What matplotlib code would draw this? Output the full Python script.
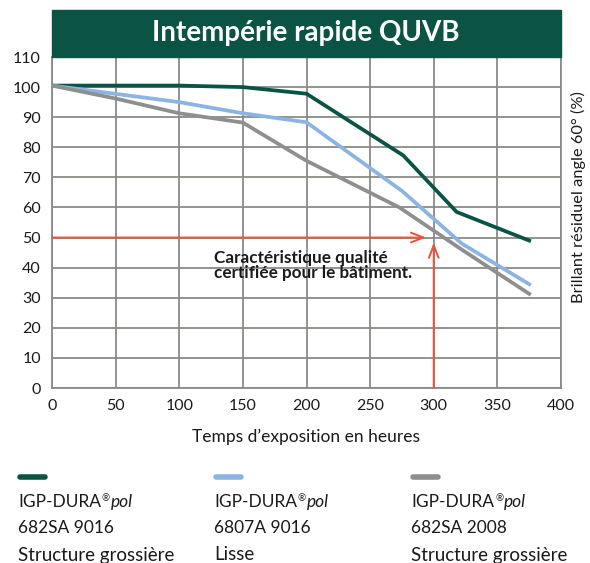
import matplotlib.pyplot as plt
from matplotlib.patches import Rectangle
from matplotlib.lines import Line2D

plt.rcParams['font.family'] = ['Lato', 'DejaVu Sans']

# data (hours vs residual gloss %)
hours_green = [0, 100, 150, 200, 276, 318, 375]
gloss_green = [100.5, 100.5, 100, 97.8, 77.3, 58.5, 49]

hours_blue = [0, 100, 150, 200, 275, 322, 375]
gloss_blue = [100.5, 95, 91.3, 88.3, 65.5, 48, 34.5]

hours_gray = [0, 50, 100, 150, 200, 273, 322, 375]
gloss_gray = [100.5, 96.2, 91.3, 88.2, 75.5, 60, 46, 31.3]

xticks = [0, 50, 100, 150, 200, 250, 300, 350, 400]
yticks = [0, 10, 20, 30, 40, 50, 60, 70, 80, 90, 100, 110]

names = ["682SA 9016", "6807A 9016", "682SA 2008"]
finish = ["Structure grossière", "Lisse", "Structure grossière"]

green = '#0b5445'
blue = '#8cb4e2'
gray = '#8f8f8f'
red = '#e8523f'
grid_c = '#8a8a86'
txt = '#1a1a1a'

fig = plt.figure(figsize=(5.90, 5.63), dpi=100)
ax = fig.add_axes([52/590, 1 - 388/563, 509/590, 331/563])

ax.plot(hours_green, gloss_green, color=green, lw=2.7, zorder=4)
ax.plot(hours_blue, gloss_blue, color=blue, lw=2.7, zorder=4)
ax.plot(hours_gray, gloss_gray, color=gray, lw=2.7, zorder=4)

ax.set_xlim(0, 400)
ax.set_ylim(0, 110)
ax.set_xticks(xticks)
ax.set_yticks(yticks)
ax.grid(True, color=grid_c, lw=1.3, zorder=1)
ax.set_axisbelow(True)
for s in ax.spines.values():
    s.set_color(grid_c)
    s.set_linewidth(1.3)
ax.tick_params(length=0, labelsize=11.5, colors=txt, pad=8)

# red guide arrows
arrow = dict(arrowstyle='->,head_length=0.9,head_width=0.35', color=red, lw=1.4,
             shrinkA=0, shrinkB=0)
ax.annotate('', xy=(294, 50), xytext=(0, 50), arrowprops=arrow, zorder=3)
ax.annotate('', xy=(300, 48.3), xytext=(300, 0), arrowprops=arrow, zorder=3)

ax.text(127, 40.8, "Caractéristique qualité\ncertifiée pour le bâtiment.",
        fontsize=12.3, fontweight='bold', ha='left', va='center',
        linespacing=0.95, color=txt, zorder=5)

ax.set_xlabel("Temps d’exposition en heures", fontsize=12.5, labelpad=11,
              color=txt)

fig.text(578/590, 1 - 197/563, "Brillant résiduel angle 60° (%)", rotation=90,
         ha='center', va='center', fontsize=11.8, color=txt)

# title banner
fig.patches.append(Rectangle((52/590, 1 - 57/563), 509/590, 47/563,
                             transform=fig.transFigure, color=green))
fig.text(306/590, 1 - 33/563, "Intempérie rapide QUVB", ha='center',
         va='center', color='white', fontsize=20, fontweight='bold')

# legend
cols = [18, 214, 411]
colors = [green, blue, gray]
for x0, c, n, f in zip(cols, colors, names, finish):
    fig.add_artist(Line2D([(x0 + 2)/590, (x0 + 27)/590],
                          [1 - 477/563, 1 - 477/563], color=c, lw=4,
                          solid_capstyle='round', transform=fig.transFigure))
    t1 = fig.text(x0/590, 1 - 507/563, "IGP-DURA", ha='left', va='baseline',
                  fontsize=12.5, color=txt)
    reg = plt.Annotation("®", xy=(1, 1), xycoords=t1, xytext=(1, 0),
                         textcoords='offset pixels', ha='left', va='top',
                         fontsize=7, color=txt)
    fig.add_artist(reg)
    fig.add_artist(plt.Annotation("pol", xy=(1, 0), xycoords=t1,
                                  xytext=(10, 0), textcoords='offset pixels',
                                  ha='left', va='bottom', fontsize=12.5,
                                  style='italic', color=txt))
    fig.text(x0/590, 1 - 528/563, n, ha='left', va='center', fontsize=12.5,
             color=txt)
    fig.text(x0/590, 1 - 555/563, f, ha='left', va='center', fontsize=13.5,
             color=txt)

fig.savefig('out.png', dpi=100)
